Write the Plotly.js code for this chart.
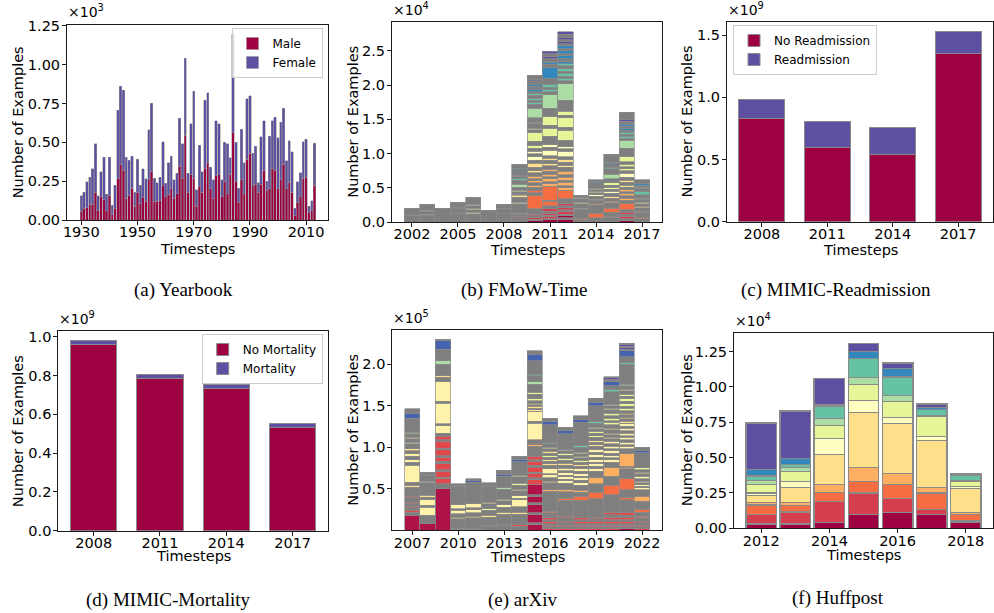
<!DOCTYPE html>
<html><head><meta charset="utf-8">
<script src="https://cdn.plot.ly/plotly-3.0.1.min.js"></script>
<style>html,body{margin:0;padding:0;background:#fff}#chart{width:994px;height:613px}</style>
</head><body><div id="chart"></div><script>
// ---------------- DATA ----------------
// (a) Yearbook, values in units of 1e3
const yearbookYears = [1930,1931,1932,1933,1934,1935,1936,1937,1938,1939,1940,1941,1942,1943,1944,1945,1946,1947,1948,1949,1950,1951,1952,1953,1954,1955,1956,1957,1958,1959,1960,1961,1962,1963,1964,1965,1966,1967,1968,1969,1970,1971,1972,1973,1974,1975,1976,1977,1978,1979,1980,1981,1982,1983,1984,1985,1986,1987,1988,1989,1990,1991,1992,1993,1994,1995,1996,1997,1998,1999,2000,2001,2002,2003,2004,2005,2006,2007,2008,2009,2010,2011,2012,2013];
const yearbookMale = [0.055,0.075,0.08,0.10,0.10,0.175,0.06,0.15,0.13,0.06,0.155,0.035,0.075,0.265,0.36,0.32,0.14,0.16,0.205,0.085,0.175,0.105,0.145,0.12,0.26,0.31,0.12,0.12,0.125,0.225,0.15,0.165,0.2,0.14,0.17,0.345,0.27,0.545,0.175,0.29,0.27,0.09,0.215,0.18,0.33,0.37,0.20,0.14,0.285,0.29,0.15,0.245,0.17,0.29,0.56,0.25,0.115,0.26,0.17,0.39,0.43,0.22,0.23,0.18,0.23,0.32,0.19,0.20,0.33,0.32,0.20,0.26,0.36,0.20,0.24,0.18,0.03,0.11,0.15,0.27,0.275,0.05,0.06,0.225];
const yearbookFemale = [0.100,0.105,0.165,0.175,0.23,0.315,0.095,0.16,0.275,0.105,0.25,0.06,0.15,0.44,0.50,0.515,0.265,0.225,0.205,0.095,0.215,0.12,0.185,0.145,0.32,0.44,0.15,0.12,0.15,0.28,0.085,0.205,0.21,0.12,0.13,0.31,0.22,0.495,0.125,0.33,0.56,0.105,0.265,0.13,0.44,0.45,0.14,0.12,0.355,0.33,0.11,0.255,0.32,0.11,0.64,0.25,0.09,0.325,0.20,0.39,0.37,0.21,0.245,0.06,0.305,0.32,0.06,0.34,0.31,0.34,0.33,0.37,0.36,0.18,0.27,0.26,0.045,0.135,0.155,0.235,0.245,0.04,0.065,0.27];

// (b) FMoW-Time, values in units of 1e4, segments bottom -> top per year
const fmowYears = [2002,2003,2004,2005,2006,2007,2008,2009,2010,2011,2012,2013,2014,2015,2016,2017];
const fmowSegKeys = [
 "g ly g","g py g py g","g","g yg g lg g","g py g yg g lg g","g","g yg g lg g",
 "g r g o g py g ly yg g yg g lg g t g b g b g",
 "dr g r g r g or g or g o g o g o g ly g ly g py g py g yg g yg g yg g yg g lg g t g t g t g b g b g p g",
 "dr g r g r g r g or g or o g o g o g o g ly g ly g py g py g yg g yg g lg g t g t g b g b g p g p",
 "dr g dr g r g r g r g or o g o g o g o g ly g ly g py g py g yg g yg g yg g lg g t g t g t g t b g b g b g b g p g p g p",
 "g or g py g yg g lg g",
 "g or g o g ly g py g yg g lg g b g",
 "g r g or g o g ly g py g yg g yg g lg g t g b g",
 "dr g r g r g or g o g o g o g ly g ly g py g yg g yg g yg g lg g t g t g b g b g p g",
 "g or g o g ly g py g yg g t g lg g b g"];
const fmowSegValues = [
 [0.09,0.01,0.10],[0.10,0.01,0.05,0.01,0.09],[0.20],[0.12,0.01,0.07,0.01,0.08],[0.12,0.02,0.04,0.02,0.04,0.02,0.10],[0.17],[0.12,0.01,0.06,0.01,0.06],
 [0.06,0.015,0.04,0.015,0.14,0.02,0.07,0.02,0.02,0.04,0.02,0.05,0.04,0.06,0.02,0.04,0.015,0.08,0.015,0.06],
 [0.02,0.02,0.02,0.03,0.02,0.08,0.20,0.04,0.03,0.05,0.03,0.03,0.03,0.03,0.04,0.05,0.03,0.05,0.06,0.04,0.05,0.05,0.03,0.05,0.03,0.07,0.12,0.05,0.02,0.07,0.02,0.06,0.14,0.06,0.03,0.03,0.03,0.04,0.02,0.03,0.04,0.04,0.03,0.05,0.02,0.06],
 [0.03,0.02,0.03,0.02,0.03,0.03,0.03,0.05,0.06,0.02,0.20,0.04,0.03,0.04,0.03,0.04,0.04,0.03,0.05,0.03,0.05,0.03,0.04,0.08,0.04,0.04,0.12,0.12,0.04,0.13,0.12,0.20,0.04,0.04,0.03,0.04,0.09,0.15,0.05,0.03,0.05,0.03,0.05,0.03],
 [0.04,0.02,0.03,0.02,0.04,0.03,0.03,0.03,0.03,0.07,0.12,0.04,0.03,0.05,0.03,0.04,0.04,0.05,0.06,0.03,0.04,0.04,0.04,0.08,0.04,0.03,0.09,0.15,0.04,0.14,0.04,0.06,0.16,0.24,0.04,0.04,0.03,0.04,0.03,0.04,0.04,0.03,0.04,0.03,0.05,0.03,0.04,0.03,0.04,0.03,0.03,0.03,0.04,0.04,0.04],
 [0.03,0.015,0.14,0.015,0.07,0.015,0.055,0.015,0.035],
 [0.06,0.07,0.12,0.015,0.05,0.02,0.04,0.02,0.03,0.025,0.02,0.02,0.08,0.015,0.035],
 [0.07,0.015,0.055,0.06,0.08,0.02,0.05,0.02,0.05,0.03,0.03,0.03,0.03,0.03,0.06,0.07,0.08,0.02,0.05,0.02,0.12],
 [0.02,0.03,0.03,0.03,0.03,0.04,0.09,0.05,0.03,0.03,0.03,0.03,0.03,0.04,0.03,0.04,0.03,0.04,0.06,0.04,0.03,0.03,0.03,0.04,0.07,0.13,0.11,0.03,0.03,0.03,0.03,0.03,0.03,0.03,0.03,0.04,0.02,0.11],
 [0.05,0.015,0.08,0.015,0.05,0.02,0.04,0.02,0.04,0.02,0.05,0.04,0.05,0.02,0.03,0.015,0.065]];

// (c) MIMIC-Readmission, units of 1e9
const mimicYears = [2008,2011,2014,2017];
const noReadmission = [0.83,0.60,0.54,1.35];
const readmission = [0.153,0.203,0.22,0.175];
// (d) MIMIC-Mortality, units of 1e9
const noMortality = [0.96,0.785,0.733,0.53];
const mortality = [0.022,0.023,0.023,0.022];

// (e) arXiv, units of 1e5, segments bottom -> top per year
const arxivYears = [2007,2008,2009,2010,2011,2012,2013,2014,2015,2016,2017,2018,2019,2020,2021,2022];
const arxivSegKeys = [
 "cr g rr g rr g rr g rr g ly g pyb g pyb g pyb g ly g yg g yg g lg g bb g",
 "cr g pyb g pyb g ly g lg g bb g",
 "cr g rr g rr g rr g rr g rr g rr g rr g pyb g pyb g pyb g ly g lg g bb g",
 "g cr g ly g pyb g pyb g bb g",
 "g cr g ly g pyb g pyb g bb g",
 "g rr g ly g yg g ly g bb g",
 "g rr g ly g pyb g yg g lg g bb g",
 "g rr g ly g pyb g pyb g ly g yg g yg g bb g",
 "cr g cr g cr g cr g cr rr g rr g rr g rr g rr g o g pyb g pyb ly g ly g ly g yg g yg g lg g t g bb g",
 "rr g rr g rr g rr g or g o g ly g pyb g pyb g ly g ly g yg g ly g yg g t g bb g",
 "rr g rr g rr g rr g or g o g pyb g pyb g pyb g pyb g ly g yg g yg g lg g bb g",
 "rr g rr g rr g rr g or g o g pyb g pyb g pyb g pyb g ly g yg g yg g yg g t g bb g",
 "rr g rr g rr g rr g or g o g pyb g pyb g pyb g pyb g pyb g ly g ly g yg g yg g yg g t g bb g",
 "rr g rr g rr g rr g rr g or g o g pyb g pyb g pyb g pyb g pyb g ly g ly g ly g yg g yg g yg g yg g lg g t g bb g p g",
 "cr g rr g rr g rr g rr g or g or g o g o g pyb g pyb g pyb g pyb g pyb g pyb g ly g ly g ly g yg g yg g yg g yg g yg g lg g t g bb g p g p g",
 "rr g rr g rr g or g or g o g pyb g pyb g pyb g pyb g ly g yg g bb g"];
const arxivSegValues = [
 [0.18,0.04,0.02,0.03,0.02,0.03,0.02,0.05,0.02,0.11,0.02,0.04,0.20,0.04,0.03,0.04,0.03,0.04,0.02,0.06,0.02,0.04,0.02,0.04,0.02,0.17,0.06,0.05],
 [0.08,0.10,0.10,0.02,0.07,0.03,0.02,0.15,0.02,0.07,0.015,0.025],
 [0.50,0.06,0.06,0.02,0.07,0.02,0.07,0.03,0.05,0.02,0.07,0.02,0.08,0.02,0.04,0.04,0.09,0.02,0.25,0.02,0.24,0.05,0.02,0.14,0.04,0.14,0.10,0.02],
 [0.01,0.01,0.12,0.02,0.04,0.04,0.02,0.05,0.22,0.01,0.02],
 [0.01,0.01,0.13,0.02,0.04,0.04,0.02,0.05,0.26,0.015,0.025],
 [0.05,0.01,0.10,0.02,0.06,0.02,0.06,0.02,0.19,0.01,0.03],
 [0.06,0.015,0.12,0.02,0.06,0.03,0.05,0.02,0.12,0.015,0.14,0.025,0.045],
 [0.05,0.015,0.13,0.02,0.07,0.08,0.02,0.03,0.06,0.02,0.05,0.02,0.08,0.02,0.16,0.025,0.04],
 [0.07,0.02,0.10,0.02,0.10,0.02,0.08,0.02,0.12,0.06,0.02,0.05,0.02,0.06,0.02,0.05,0.02,0.04,0.12,0.02,0.06,0.20,0.02,0.12,0.02,0.02,0.02,0.02,0.02,0.03,0.02,0.06,0.02,0.10,0.03,0.07,0.02,0.16,0.08,0.04],
 [0.02,0.02,0.02,0.02,0.02,0.03,0.02,0.06,0.02,0.24,0.02,0.08,0.02,0.04,0.04,0.01,0.06,0.04,0.02,0.03,0.02,0.03,0.02,0.03,0.02,0.03,0.02,0.04,0.015,0.215,0.04,0.04],
 [0.02,0.02,0.02,0.03,0.02,0.04,0.02,0.19,0.025,0.08,0.02,0.08,0.03,0.02,0.03,0.02,0.03,0.02,0.03,0.04,0.02,0.04,0.02,0.04,0.02,0.03,0.015,0.19,0.035,0.045],
 [0.02,0.02,0.02,0.02,0.02,0.03,0.02,0.21,0.05,0.05,0.02,0.06,0.03,0.03,0.03,0.02,0.03,0.03,0.03,0.03,0.02,0.03,0.02,0.03,0.02,0.03,0.02,0.06,0.015,0.285,0.03,0.05],
 [0.02,0.02,0.02,0.02,0.03,0.03,0.02,0.22,0.08,0.10,0.07,0.08,0.03,0.03,0.03,0.02,0.03,0.03,0.03,0.03,0.03,0.04,0.02,0.03,0.02,0.04,0.02,0.03,0.02,0.03,0.02,0.05,0.015,0.195,0.035,0.055],
 [0.02,0.02,0.02,0.02,0.03,0.02,0.03,0.03,0.02,0.22,0.11,0.11,0.10,0.07,0.03,0.02,0.03,0.03,0.03,0.02,0.03,0.03,0.03,0.03,0.02,0.03,0.02,0.04,0.02,0.04,0.03,0.02,0.03,0.03,0.03,0.04,0.02,0.03,0.015,0.155,0.02,0.05,0.05,0.03,0.015,0.015],
 [0.02,0.02,0.02,0.02,0.03,0.02,0.03,0.02,0.03,0.16,0.02,0.10,0.13,0.12,0.02,0.01,0.15,0.06,0.03,0.02,0.03,0.03,0.03,0.02,0.03,0.03,0.03,0.02,0.03,0.01,0.02,0.03,0.02,0.03,0.02,0.03,0.03,0.02,0.03,0.03,0.03,0.03,0.03,0.04,0.02,0.04,0.015,0.24,0.02,0.075,0.07,0.02,0.015,0.02,0.015,0.02],
 [0.02,0.02,0.02,0.03,0.02,0.04,0.02,0.05,0.03,0.10,0.06,0.08,0.02,0.02,0.02,0.02,0.02,0.03,0.03,0.03,0.02,0.03,0.02,0.185,0.025,0.04]];

// (f) Huffpost, units of 1e4, one array per category (bottom -> top)
const huffYears = [2012,2013,2014,2015,2016,2017,2018];
const huffCat0 = [0.03,0.03,0.04,0.095,0.11,0.095,0.04];
const huffCat1 = [0.07,0.085,0.15,0.155,0.10,0.04,0.012];
const huffCat2 = [0.065,0.045,0.065,0.08,0.10,0.115,0.043];
const huffCat3 = [0.02,0.025,0.055,0.10,0.08,0.04,0.015];
const huffCat4 = [0.045,0.105,0.21,0.39,0.35,0.33,0.173];
const huffCat5 = [0.02,0.04,0.115,0.085,0.045,0.03,0.012];
const huffCat6 = [0.06,0.07,0.095,0.11,0.11,0.145,0.04];
const huffCat7 = [0.03,0.03,0.045,0.05,0.045,0.005,0.005];
const huffCat8 = [0.03,0.02,0.09,0.135,0.13,0.04,0.032];
const huffCat9 = [0.045,0.045,0.01,0.05,0.06,0.015,0.008];
const huffCat10 = [0.33,0.335,0.185,0.06,0.04,0.025,0.005];
const huffCats = [huffCat0,huffCat1,huffCat2,huffCat3,huffCat4,huffCat5,huffCat6,huffCat7,huffCat8,huffCat9,huffCat10];

// ---------------- STYLE ----------------
const W = 994, H = 613;
const PAL = {g:'#7f7f7f', dr:'#9e0142', r:'#d53e4f', or:'#f46d43', o:'#fdae61', ly:'#fee08b', py:'#ffffbf',
  yg:'#e6f598', lg:'#abdda4', t:'#66c2a5', b:'#3288bd', p:'#5e4fa2',
  cr:'#ad1249', rr:'#e0484c', pyb:'#fff2ab', bb:'#4663b0'};
const HUFF_COLORS = ['#9e0142','#d53e4f','#f46d43','#fdae61','#fee08b','#ffffbf','#e6f598','#abdda4','#66c2a5','#3288bd','#5e4fa2'];
const EDGE = '#8a8a8a';
const FONT = 'DejaVu Sans';
function dx(a, b) { return [a / W, b / W]; }
function dy(top, bot) { return [1 - bot / H, 1 - top / H]; }

function stackTraces(years, vals, keysStr, xa, ya) {
  const keys = keysStr.map(s => s.split(' '));
  const levels = Math.max(...vals.map(v => v.length));
  const out = [];
  for (let k = 0; k < levels; k++) {
    const x = [], y = [], c = [];
    years.forEach((yr, i) => {
      if (k < vals[i].length) { x.push(yr); y.push(vals[i][k]); c.push(PAL[keys[i][k]]); }
    });
    out.push({type: 'bar', x: x, y: y, width: 1, xaxis: xa, yaxis: ya,
      marker: {color: c, line: {color: EDGE, width: 0.7}}, showlegend: false, hoverinfo: 'skip'});
  }
  return out;
}

const traces = [];
// (a)
traces.push({type:'bar', name:'Male', x: yearbookYears, y: yearbookMale, width: 0.85, xaxis:'x', yaxis:'y',
  marker:{color:'#9e0142', line:{color:'#949494', width:0.5}}, legend:'legend', hoverinfo:'skip'});
traces.push({type:'bar', name:'Female', x: yearbookYears, y: yearbookFemale, width: 0.85, xaxis:'x', yaxis:'y',
  marker:{color:'#5e4fa2', line:{color:'#949494', width:0.5}}, legend:'legend', hoverinfo:'skip'});
// (b)
traces.push(...stackTraces(fmowYears, fmowSegValues, fmowSegKeys, 'x2', 'y2'));
// (c)
traces.push({type:'bar', name:'No Readmission', x: mimicYears, y: noReadmission, width: 2.1, xaxis:'x3', yaxis:'y3',
  marker:{color:'#9e0142', line:{color:EDGE, width:1}}, legend:'legend2', hoverinfo:'skip'});
traces.push({type:'bar', name:'Readmission', x: mimicYears, y: readmission, width: 2.1, xaxis:'x3', yaxis:'y3',
  marker:{color:'#5e4fa2', line:{color:EDGE, width:1}}, legend:'legend2', hoverinfo:'skip'});
// (d)
traces.push({type:'bar', name:'No Mortality', x: mimicYears, y: noMortality, width: 2.1, xaxis:'x4', yaxis:'y4',
  marker:{color:'#9e0142', line:{color:EDGE, width:1}}, legend:'legend3', hoverinfo:'skip'});
traces.push({type:'bar', name:'Mortality', x: mimicYears, y: mortality, width: 2.1, xaxis:'x4', yaxis:'y4',
  marker:{color:'#5e4fa2', line:{color:EDGE, width:1}}, legend:'legend3', hoverinfo:'skip'});
// (e)
traces.push(...stackTraces(arxivYears, arxivSegValues, arxivSegKeys, 'x5', 'y5'));
// (f)
huffCats.forEach((vals, i) => {
  traces.push({type:'bar', x: huffYears, y: vals, width: 0.9, xaxis:'x6', yaxis:'y6',
    marker:{color: HUFF_COLORS[i], line:{color:EDGE, width:1.2}}, showlegend:false, hoverinfo:'skip'});
});

function ax(domain, range, extra) {
  return Object.assign({domain: domain, range: range, showline: true, mirror: true, linecolor: '#1a1a1a', linewidth: 1,
    ticks: 'outside', ticklen: 4, tickwidth: 1, tickcolor: '#1a1a1a', showgrid: false, zeroline: false,
    tickfont: {family: FONT, size: 14.5, color: '#000'}, fixedrange: true}, extra || {});
}
const XSO = {ticklabelstandoff: -5};
const YSO = {ticklabelstandoff: -1};

const P = {
  a: {x:[67,328], y:[24.5,220]},
  b: {x:[392,662], y:[22,222]},
  c: {x:[727,993], y:[21.7,221.7]},
  d: {x:[58.3,328], y:[331,530.7]},
  e: {x:[392.3,662], y:[330,530.3]},
  f: {x:[734,993], y:[332.7,528.3]}
};

const legendStyle = {xanchor:'left', yanchor:'top', bgcolor:'rgba(255,255,255,0.8)', bordercolor:'#cccccc', borderwidth:1,
  font:{family:FONT, size:12, color:'#000'}, tracegroupgap:0, itemwidth:30, traceorder:'normal'};

const layout = {
  width: W, height: H, margin: {l:0, r:0, t:0, b:0}, paper_bgcolor: '#fff', plot_bgcolor: '#fff',
  barmode: 'stack', font: {family: FONT, color: '#000'}, showlegend: true,
  xaxis:  ax(dx(...P.a.x), [1924.9, 2017.8], Object.assign({anchor:'y', tickvals:[1930,1950,1970,1990,2010]}, XSO)),
  yaxis:  ax(dy(...P.a.y), [0, 1.258], Object.assign({anchor:'x', tickvals:[0,0.25,0.5,0.75,1,1.25], tickformat:'.2f'}, YSO)),
  xaxis2: ax(dx(...P.b.x), [2000.7, 2018.3], Object.assign({anchor:'y2', tickvals:[2002,2005,2008,2011,2014,2017]}, XSO)),
  yaxis2: ax(dy(...P.b.y), [0, 2.92], Object.assign({anchor:'x2', tickvals:[0,0.5,1,1.5,2,2.5], tickformat:'.1f'}, YSO)),
  xaxis3: ax(dx(...P.c.x), [2006.4, 2018.6], Object.assign({anchor:'y3', tickvals:[2008,2011,2014,2017]}, XSO)),
  yaxis3: ax(dy(...P.c.y), [0, 1.607], Object.assign({anchor:'x3', tickvals:[0,0.5,1,1.5], tickformat:'.1f'}, YSO)),
  xaxis4: ax(dx(...P.d.x), [2006.4, 2018.6], Object.assign({anchor:'y4', tickvals:[2008,2011,2014,2017]}, XSO)),
  yaxis4: ax(dy(...P.d.y), [0, 1.03], Object.assign({anchor:'x4', tickvals:[0,0.2,0.4,0.6,0.8,1.0], tickformat:'.1f'}, YSO)),
  xaxis5: ax(dx(...P.e.x), [2005.7, 2023.3], Object.assign({anchor:'y5', tickvals:[2007,2010,2013,2016,2019,2022]}, XSO)),
  yaxis5: ax(dy(...P.e.y), [0, 2.41], Object.assign({anchor:'x5', tickvals:[0.5,1,1.5,2], tickformat:'.1f'}, YSO)),
  xaxis6: ax(dx(...P.f.x), [2011.2, 2018.8], Object.assign({anchor:'y6', tickvals:[2012,2014,2016,2018]}, XSO)),
  yaxis6: ax(dy(...P.f.y), [0, 1.384], Object.assign({anchor:'x6', tickvals:[0,0.25,0.5,0.75,1,1.25], tickformat:'.2f'}, YSO)),
  legend:  Object.assign({}, legendStyle, {x: 322.5/W, xanchor:'right', y: 1-28/H}),
  legend2: Object.assign({}, legendStyle, {x: 733/W, y: 1-25/H}),
  legend3: Object.assign({}, legendStyle, {x: 322.7/W, xanchor:'right', y: 1-334/H}),
  annotations: []
};

function ann(text, px, py, opts) {
  layout.annotations.push(Object.assign({text: text, x: px / W, y: 1 - py / H, xref:'paper', yref:'paper', showarrow:false,
    font:{family:FONT, size:14.5, color:'#000'}}, opts || {}));
}
const exps = [['a','3'],['b','4'],['c','9'],['d','9'],['e','5'],['f','4']];
exps.forEach(([k, e]) => ann('×10<sup>' + e + '</sup>', P[k].x[0] - 1, P[k].y[0] - 2, {xanchor:'left', yanchor:'bottom', font:{family:FONT, size:14, color:'#000'}}));
const ylabX = {a:18, b:352.7, c:686.7, d:18.3, e:352.7, f:686.7};
const xlabY = {a:249, b:250, c:250, d:556, e:557, f:555};
Object.keys(P).forEach(k => {
  ann('Number of Examples', ylabX[k], (P[k].y[0] + P[k].y[1]) / 2, {textangle:-90, xanchor:'center', yanchor:'middle'});
  ann('Timesteps', (P[k].x[0] + P[k].x[1]) / 2, xlabY[k], {xanchor:'center', yanchor:'middle'});
});
const captions = [['(a) Yearbook',183,290],['(b) FMoW-Time',524,290],['(c) MIMIC-Readmission',836,290],
                  ['(d) MIMIC-Mortality',168,600],['(e) arXiv',523,600],['(f) Huffpost',838,598]];
captions.forEach(([t, x, y]) => ann(t, x, y, {xanchor:'center', yanchor:'middle', font:{family:'Liberation Serif', size:19, color:'#000'}}));

Plotly.newPlot('chart', traces, layout, {displayModeBar:false, staticPlot:true});
</script></body></html>
